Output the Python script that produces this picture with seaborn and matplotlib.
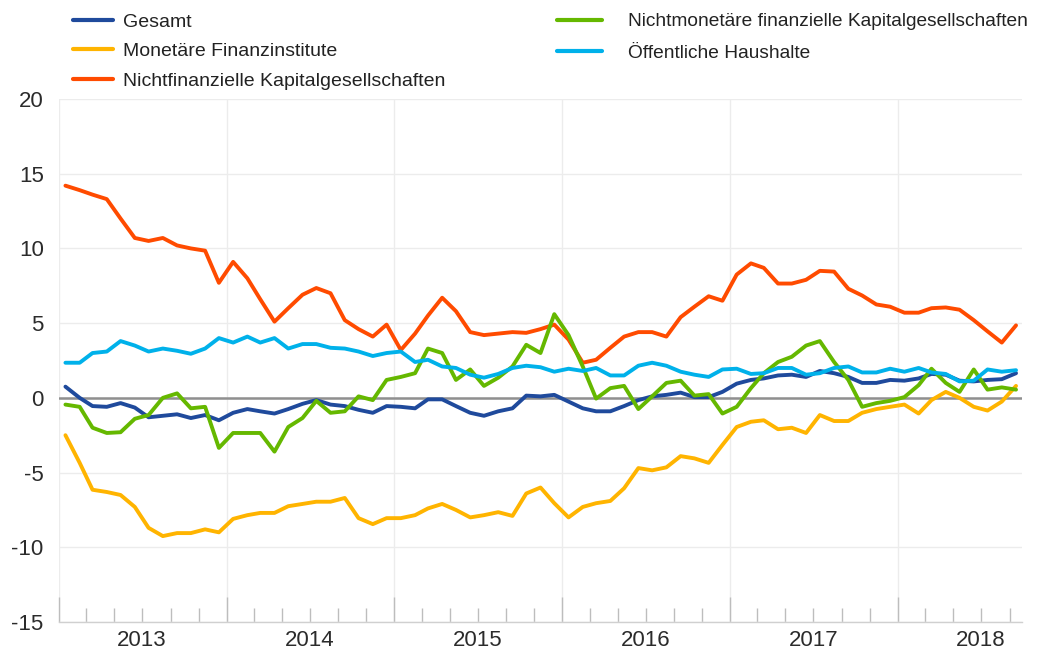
import numpy as np
import pandas as pd
import matplotlib
matplotlib.use("Agg")
import matplotlib.pyplot as plt
import matplotlib.dates as mdates
from matplotlib.ticker import FuncFormatter, NullFormatter
import seaborn as sns

# ---------------- data (monthly, Jan 2013 - Sep 2018) ----------------
series_names = ["Gesamt", "Monetäre Finanzinstitute", "Nichtfinanzielle Kapitalgesellschaften",
                "Nichtmonetäre finanzielle Kapitalgesellschaften", "Öffentliche Haushalte"]

gesamt = [0.75, 0.0, -0.55, -0.6, -0.35, -0.65, -1.3, -1.2, -1.1, -1.35,
          -1.15, -1.5, -1.0, -0.75, -0.9, -1.05, -0.75, -0.4, -0.15, -0.45,
          -0.55, -0.8, -1.0, -0.55, -0.6, -0.7, -0.1, -0.1, -0.55, -1.0,
          -1.2, -0.9, -0.7, 0.15, 0.1, 0.2, -0.25, -0.7, -0.9, -0.9,
          -0.55, -0.15, 0.1, 0.2, 0.35, 0.05, 0.05, 0.4, 0.95, 1.2,
          1.3, 1.5, 1.55, 1.4, 1.8, 1.65, 1.4, 1.0, 1.0, 1.2,
          1.15, 1.3, 1.6, 1.55, 1.15, 1.1, 1.2, 1.25, 1.65]

monetaere = [-2.5, -4.35, -6.15, -6.3, -6.5, -7.3, -8.7, -9.25, -9.05, -9.05,
             -8.8, -9.0, -8.1, -7.85, -7.7, -7.7, -7.25, -7.1, -6.95, -6.95,
             -6.7, -8.05, -8.45, -8.05, -8.05, -7.85, -7.4, -7.1, -7.5, -8.0,
             -7.85, -7.65, -7.9, -6.4, -6.0, -7.05, -8.0, -7.3, -7.05, -6.9,
             -6.05, -4.7, -4.85, -4.65, -3.9, -4.05, -4.35, -3.15, -1.95, -1.6,
             -1.5, -2.1, -2.0, -2.35, -1.15, -1.55, -1.55, -1.0, -0.75, -0.6,
             -0.45, -1.05, -0.15, 0.4, 0.0, -0.6, -0.85, -0.25, 0.8]

nichtfinanz = [14.2, 13.9, 13.6, 13.3, 12.0, 10.7, 10.5, 10.7, 10.2, 10.0,
               9.85, 7.7, 9.1, 8.0, 6.6, 5.1, 6.0, 6.9, 7.35, 7.0,
               5.2, 4.6, 4.1, 4.9, 3.2, 4.3, 5.5, 6.7, 5.8, 4.4,
               4.2, 4.3, 4.4, 4.35, 4.6, 4.9, 3.9, 2.35, 2.55, 3.35,
               4.1, 4.4, 4.4, 4.1, 5.4, 6.1, 6.8, 6.5, 8.25, 9.0,
               8.7, 7.65, 7.65, 7.9, 8.5, 8.45, 7.3, 6.85, 6.25, 6.1,
               5.7, 5.7, 6.0, 6.05, 5.9, 5.2, 4.45, 3.7, 4.85]

nichtmonetaer = [-0.45, -0.6, -2.0, -2.35, -2.3, -1.4, -1.15, 0.0, 0.3, -0.7,
                 -0.6, -3.35, -2.35, -2.35, -2.35, -3.6, -1.95, -1.35, -0.2, -1.0,
                 -0.9, 0.1, -0.15, 1.2, 1.4, 1.65, 3.3, 3.0, 1.2, 1.9,
                 0.8, 1.35, 2.1, 3.55, 3.0, 5.6, 4.2, 2.1, -0.05, 0.65,
                 0.8, -0.75, 0.1, 1.0, 1.15, 0.15, 0.25, -1.05, -0.6, 0.65,
                 1.65, 2.4, 2.75, 3.5, 3.8, 2.4, 1.2, -0.6, -0.35, -0.2,
                 0.05, 0.85, 1.95, 1.0, 0.4, 1.9, 0.55, 0.7, 0.55]

oeffentlich = [2.35, 2.35, 3.0, 3.1, 3.8, 3.5, 3.1, 3.3, 3.15, 2.95,
               3.3, 4.0, 3.7, 4.1, 3.7, 4.0, 3.3, 3.6, 3.6, 3.35,
               3.3, 3.1, 2.8, 3.0, 3.1, 2.4, 2.55, 2.1, 2.0, 1.55,
               1.35, 1.6, 2.0, 2.15, 2.05, 1.75, 1.95, 1.8, 2.0, 1.5,
               1.5, 2.15, 2.35, 2.15, 1.75, 1.55, 1.4, 1.9, 1.95, 1.6,
               1.65, 2.0, 2.0, 1.55, 1.65, 2.0, 2.1, 1.7, 1.7, 1.95,
               1.75, 2.0, 1.7, 1.6, 1.1, 1.15, 1.9, 1.75, 1.85]

year_labels = ["2013", "2014", "2015", "2016", "2017", "2018"]
y_ticks = [-15, -10, -5, 0, 5, 10, 15, 20]

colors = ["#1f4a9c", "#ffb400", "#ff4b00", "#65b800", "#00b1ea"]

# ---------------- build frame ----------------
dates = pd.date_range("2013-01-01", periods=len(gesamt), freq="MS") + pd.Timedelta(days=14)
wide = pd.DataFrame({"Datum": dates,
                     series_names[0]: gesamt,
                     series_names[1]: monetaere,
                     series_names[2]: nichtfinanz,
                     series_names[3]: nichtmonetaer,
                     series_names[4]: oeffentlich})
df = wide.melt(id_vars="Datum", var_name="Sektor", value_name="Wert")

# ---------------- plot ----------------
sns.set_theme(style="white")
plt.rcParams["font.family"] = ["Liberation Sans", "DejaVu Sans"]
plt.rcParams["axes.unicode_minus"] = False

fig = plt.figure(figsize=(10.46, 6.55), dpi=100)
ax = fig.add_axes([59 / 1046, 1 - 622 / 655, (1022 - 59) / 1046, (622 - 99) / 655])

sns.lineplot(data=df, x="Datum", y="Wert", hue="Sektor", hue_order=series_names,
             palette=dict(zip(series_names, colors)), linewidth=2.8, ax=ax, legend=True)
handles, labels = ax.get_legend_handles_labels()
ax.get_legend().remove()

ax.axhline(0, color="#8f8f8f", lw=1.8, zorder=1.5)

ax.set_ylim(-15, 20)
ax.set_xlim(pd.Timestamp("2013-01-01"), pd.Timestamp("2018-09-28"))
ax.set_yticks(y_ticks)
ax.set_yticklabels([str(v) for v in y_ticks])
ax.set_xlabel("")
ax.set_ylabel("")

ax.xaxis.set_major_locator(mdates.YearLocator())
ax.xaxis.set_major_formatter(NullFormatter())
ax.xaxis.set_minor_locator(mdates.MonthLocator(bymonth=[3, 5, 7, 9, 11]))


def minor_fmt(x, pos):
    d = mdates.num2date(x)
    if d.month == 7 and str(d.year) in year_labels:
        return str(d.year)
    return ""


ax.xaxis.set_minor_formatter(FuncFormatter(minor_fmt))

for s in ["left", "right", "top"]:
    ax.spines[s].set_visible(False)
ax.spines["bottom"].set_color("#d0d0d0")
ax.spines["bottom"].set_linewidth(1.0)

ax.grid(axis="y", color="#ececec", lw=1.0)
ax.grid(axis="x", which="major", color="#ececec", lw=1.0)
ax.set_axisbelow(True)

ax.tick_params(axis="x", which="major", direction="in", length=18, width=1.0,
               color="#bdbdbd", bottom=True)
ax.tick_params(axis="x", which="minor", direction="in", length=10, width=1.0,
               color="#bdbdbd", bottom=True, pad=6, labelsize=16, labelcolor="#2b2b2b")
ax.tick_params(axis="y", length=0, pad=11, labelsize=16, labelcolor="#2b2b2b")

# ---------------- legends ----------------
leg1 = fig.legend(handles[:3], labels[:3], loc="upper left",
                  bbox_to_anchor=(73 / 1046, 1 - 13 / 655), frameon=False, fontsize=14,
                  handlelength=2.05, handletextpad=0.5, labelspacing=0.62, borderpad=0,
                  borderaxespad=0)
leg2 = fig.legend(handles[3:], labels[3:], loc="upper left",
                  bbox_to_anchor=(557 / 1046, 1 - 13 / 655), frameon=False, fontsize=13.8,
                  handlelength=2.35, handletextpad=1.35, labelspacing=0.72, borderpad=0,
                  borderaxespad=0)
for leg in (leg1, leg2):
    for t in leg.get_texts():
        t.set_color("#222222")
    for h in leg.get_lines():
        h.set_linewidth(3.0)

fig.savefig("out.png", dpi=100)
